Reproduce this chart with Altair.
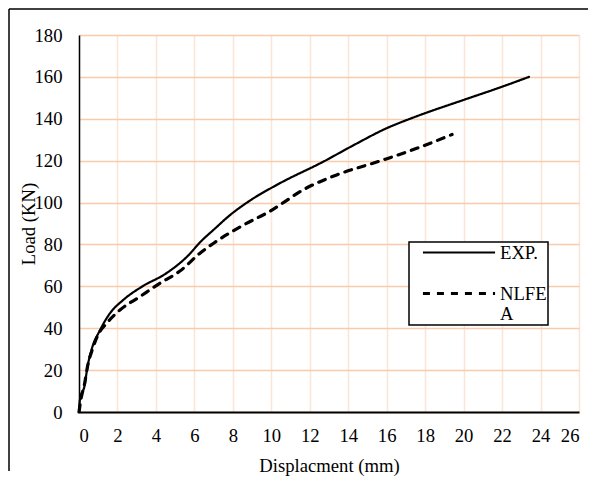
import altair as alt
import pandas as pd

# ---- data ----
series_names = ["EXP.", "NLFEA"]

exp_x = [0, 0.05, 0.3, 0.43, 0.66, 1.09, 1.6, 2.3, 3.3, 4.5, 5.6, 6.4, 7.0, 7.85, 8.9,
         10.4, 12.7, 14.2, 16.0, 17.5, 20.0, 22.0, 23.4]
exp_y = [0, 6, 13, 21, 30, 39, 47, 53.5, 60, 66, 74, 82, 87, 94, 101,
         109, 119.5, 127, 135.5, 141, 149, 155.3, 160]

nlfea_x = [0, 0.1, 0.3, 0.45, 0.7, 1.0, 1.44, 2.13, 3.17, 4.21, 5.25, 6.29, 7.0, 8.4,
           9.9, 11.8, 13.4, 15.7, 17.6, 19.4]
nlfea_y = [0, 6, 14, 22, 30, 37, 42.4, 48.7, 55.1, 61.5, 67.3, 75.8, 80.6, 88.5,
           95.7, 106.8, 113.2, 120, 126, 132.5]

x_ticks = list(range(0, 27, 2))
y_ticks = list(range(0, 181, 20))

df = pd.concat([
    pd.DataFrame({"series": series_names[0], "x": exp_x, "y": exp_y}),
    pd.DataFrame({"series": series_names[1], "x": nlfea_x, "y": nlfea_y}),
], ignore_index=True)

FONT = "Liberation Serif"
FS = 18.67
NBSP = "\u00a0"

legend = alt.Legend(
    title=None, orient="none", legendX=330, legendY=207, direction="vertical",
    strokeColor="black", fillColor="white", padding=1,
    symbolType="stroke", symbolSize=5204, symbolStrokeColor="black",
    symbolOffset=11, labelOffset=3, clipHeight=19, rowPadding=21,
    labelFont=FONT, labelFontSize=FS, labelColor="black",
    labelExpr="datum.label == 'NLFEA' ? ['NLFE" + NBSP * 2 + "', 'A'] : 'EXP.'",
)

lines = alt.Chart(df).mark_line(interpolate="monotone", color="black", strokeCap="round").encode(
    x=alt.X("x:Q", scale=alt.Scale(domain=[0, 26], nice=False),
            axis=alt.Axis(values=x_ticks, title="Displacment (mm)", ticks=False,
                          labelPadding=14, titlePadding=12,
                          gridColor="#FCE4D6", gridWidth=1.5,
                          domainColor="black", domainWidth=2)),
    y=alt.Y("y:Q", scale=alt.Scale(domain=[0, 180], nice=False),
            axis=alt.Axis(values=y_ticks, title="Load (KN)", ticks=False,
                          labelPadding=17, titleX=-51, titleBaseline="middle",
                          gridColor="#F8CBAD", gridWidth=1.5,
                          domainColor="black", domainWidth=1.5)),
    strokeDash=alt.StrokeDash("series:N",
                              scale=alt.Scale(domain=series_names, range=[[1, 0], [7, 7]]),
                              legend=legend),
    strokeWidth=alt.StrokeWidth("series:N",
                                scale=alt.Scale(domain=series_names, range=[2.2, 3.2]),
                                legend=legend),
)

frame_src = pd.DataFrame({"k": [0]})
frame_top = alt.Chart(frame_src).mark_rule(color="black", strokeWidth=1.5).encode(
    x=alt.value(-70), x2=alt.value(509), y=alt.value(-26))
frame_left = alt.Chart(frame_src).mark_rule(color="black", strokeWidth=1.5).encode(
    x=alt.value(-70), y=alt.value(-26), y2=alt.value(436))

chart = alt.layer(lines, frame_top, frame_left).properties(
    width=500, height=377, padding=0
).configure_view(stroke=None).configure_axis(
    labelFont=FONT, labelFontSize=FS, labelColor="black",
    titleFont=FONT, titleFontSize=FS, titleColor="black", titleFontWeight="normal",
).configure_legend(strokeWidth=1.5)

chart.save("out.html", embed_options={"renderer": "svg", "actions": False})
